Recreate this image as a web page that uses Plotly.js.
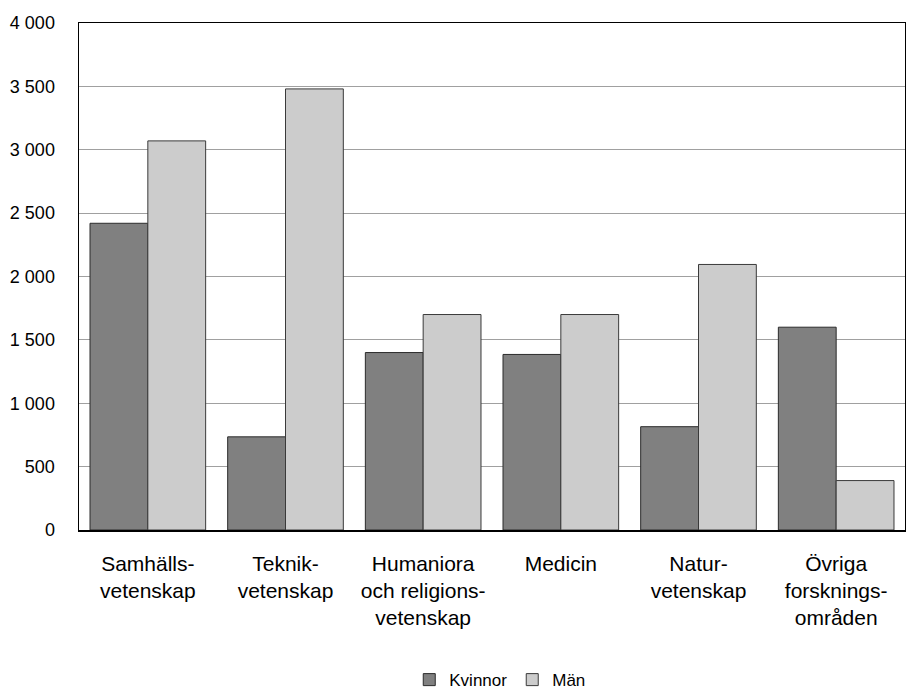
<!DOCTYPE html>
<html>
<head>
<meta charset="utf-8">
<script src="https://cdn.plot.ly/plotly-3.0.1.min.js"></script>
<style>html,body{margin:0;padding:0;background:#fff;}#chart{width:906px;height:691px;}</style>
</head>
<body>
<div id="chart"></div>
<script>
const categories = [
  "Samhälls-<br>vetenskap",
  "Teknik-<br>vetenskap",
  "Humaniora<br>och religions-<br>vetenskap",
  "Medicin",
  "Natur-<br>vetenskap",
  "Övriga<br>forsknings-<br>områden"
];
const kvinnor = [2420, 735, 1400, 1385, 815, 1600];
const man = [3070, 3480, 1700, 1700, 2095, 390];
const yTicks = [0, 500, 1000, 1500, 2000, 2500, 3000, 3500, 4000];

const FONT = "Liberation Sans, Arial, sans-serif";

const traces = [
  {type: "bar", name: "Kvinnor", x: categories, y: kvinnor,
   marker: {color: "#808080", line: {color: "#2b2b2b", width: 1}}},
  {type: "bar", name: "Män", x: categories, y: man,
   marker: {color: "#cccccc", line: {color: "#3a3a3a", width: 1}}}
];

const layout = {
  width: 906, height: 691,
  margin: {l: 79, r: 1, t: 23, b: 161, autoexpand: false},
  paper_bgcolor: "#fff", plot_bgcolor: "#fff",
  separators: ", ",
  font: {family: FONT, color: "#000", size: 18},
  barmode: "group", bargap: 0.16, bargroupgap: 0,
  showlegend: true,
  legend: {orientation: "h", x: 0.51, xanchor: "center", y: -0.296, yanchor: "middle",
           font: {family: FONT, size: 17, color: "#000"}, itemwidth: 30, traceorder: "normal"},
  xaxis: {type: "category", range: [-0.5, 5.5], showline: true, linecolor: "#000", linewidth: 1.5,
          mirror: true, ticks: "", showgrid: false, tickfont: {family: FONT, size: 21},
          ticklabelstandoff: 14, fixedrange: true},
  yaxis: {range: [0, 4000], tickvals: yTicks, tickformat: ",d", showline: true, linecolor: "#000",
          linewidth: 1.5, mirror: true, ticks: "", showgrid: true, gridcolor: "#a0a0a0", gridwidth: 1,
          zeroline: false, tickfont: {family: FONT, size: 18}, ticklabelstandoff: 19, fixedrange: true}
};

Plotly.newPlot("chart", traces, layout, {displayModeBar: false, staticPlot: true});
</script>
</body>
</html>
